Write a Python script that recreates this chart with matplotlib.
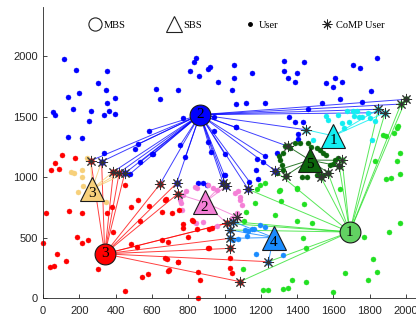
import matplotlib
matplotlib.use('Agg')
import matplotlib.pyplot as plt
from matplotlib.lines import Line2D

# ---------------- data ----------------
# base stations
mbs_x = [1690, 865, 340]
mbs_y = [545, 1515, 365]
mbs_labels = ['1', '2', '3']
sbs_x = [1600, 890, 270, 1270, 1470]
sbs_y = [1340, 790, 900, 500, 1140]
sbs_labels = ['1', '2', '3', '4', '5']

# users of MBS2 (blue)
blue_x = [116, 184, 354, 305, 345, 197, 136, 395, 354, 165, 264, 364, 55, 68, 395, 334, 253, 136, 213, 334,
          505, 602, 621, 645, 742, 771, 841, 832, 812, 861, 911,
          920, 1051, 1150, 1051, 962, 1041, 1330, 1440, 1330, 1399, 1350, 1390, 1559, 1611, 1649, 1598, 1708,
          1748, 1838, 1807, 1638, 1759, 1537, 1462, 1221, 1120, 1062, 1353, 1390, 1432, 940, 911, 1403, 1403,
          1289, 1003, 1063, 852, 880, 905, 1180, 1214, 1186, 1174]
blue_y = [1975, 1887, 1876, 1774, 1716, 1694, 1664, 1655, 1614, 1564, 1545, 1543, 1535, 1512, 1524, 1512, 1465, 1333, 1325, 1202,
          1231, 1193, 1724, 1645, 1717, 1485, 1986, 1948, 1876, 1835, 1893,
          1912, 1926, 1857, 1816, 1788, 1716, 1959, 1948, 1876, 1857, 1816, 1788, 1774, 1816, 1788, 1746, 1926,
          1904, 1986, 1707, 1645, 1623, 1614, 1562, 1614, 1614, 1603, 1493, 1455, 1455, 1383, 1293, 1355, 1311,
          1202, 1017, 1417, 948, 948, 934, 1150, 1126, 981, 1058]
# blue users linked to MBS2
blue_link_x = [525, 584, 604, 534, 755, 784, 926, 1001, 999, 944, 1062, 1137, 479, 1221]
blue_link_y = [1273, 1383, 1190, 1121, 1262, 1163, 1204, 1190, 1017, 1498, 1411, 962, 1025, 1174]

# users of SBS1 (cyan)
cyan_x = [1559, 1570, 1647, 1677, 1684, 1710, 1732, 1715, 1741, 1791, 1800, 1831, 1811, 1598, 1658, 1489, 1627, 1760]
cyan_y = [1504, 1471, 1449, 1548, 1455, 1543, 1548, 1504, 1498, 1532, 1485, 1466, 1306, 1399, 1402, 1306, 1509, 1493]

# users of SBS5 (dark green)
dgreen_x = [1388, 1416, 1462, 1475, 1508, 1526, 1545, 1559, 1361, 1324, 1306, 1315, 1324, 1287, 1425, 1453, 1508,
            1609, 1627, 1636, 1581, 1335, 1522, 1540, 1300, 1600]
dgreen_y = [1284, 1278, 1278, 1251, 1237, 1223, 1201, 1182, 1237, 1196, 1140, 1099, 1058, 1030, 997, 997, 1017,
            1140, 1154, 1091, 1099, 1260, 1017, 1017, 1170, 1110]

# users of MBS1 (green)
green_x = [1223, 1177, 1170, 1118, 1311, 1298, 1399, 1436, 1280, 1398, 1482, 1431, 1449, 1769, 1816, 1840, 1791,
           1666, 1596, 1449, 1372, 1348, 1325, 1238, 1210, 1100, 1969, 1905, 1890, 1919, 1969, 1829, 1948, 1969,
           1935, 1954, 1888, 1875, 1948, 1196, 1306, 1398, 1636, 1109]
green_y = [953, 898, 788, 714, 804, 881, 898, 774, 686, 636, 617, 493, 416, 502, 322, 215, 149,
           204, 50, 135, 149, 83, 74, 66, 66, 237, 617, 548, 983, 989, 1025, 1135, 1135, 1196,
           1361, 1424, 1339, 1347, 1402, 934, 892, 906, 900, 633]

# users of SBS2 (pink)
pink_x = [770, 758, 788, 837, 911, 957, 1058, 1085, 1095, 1071, 1039, 843, 883, 957, 847, 938, 1076, 755, 764, 1085]
pink_y = [851, 788, 887, 920, 934, 893, 871, 838, 769, 700, 659, 617, 625, 595, 906, 906, 881, 810, 727, 810]

# users of SBS4 (dodger blue)
dblue_x = [1113, 1150, 1196, 1223, 1122, 1076, 1174, 1132, 1324, 1045, 1160]
dblue_y = [562, 567, 603, 590, 509, 487, 364, 556, 355, 479, 570]

# users of SBS3 (light orange)
orange_x = [154, 171, 213, 213, 195, 219, 347, 240]
orange_y = [1044, 1030, 1058, 1003, 879, 926, 796, 1160]

# users of MBS3 (red)
red_x = [103, 175, 44, 66, 90, 17, 145, 213, 2, 39, 75, 62, 125, 185, 213, 246, 305, 354, 384, 382, 452, 485,
         485, 516, 525, 534, 544, 580, 584, 654, 672, 654, 681, 691, 742, 749, 770, 453, 852, 856, 865, 819,
         800, 678, 709, 825, 773, 847, 929, 690, 911, 672, 745, 696, 1030, 1030, 1039, 916, 916]
red_y = [1182, 1155, 1058, 1113, 1063, 700, 719, 700, 457, 254, 364, 264, 306, 502, 457, 479, 237, 700, 548, 755, 934, 755,
         446, 419, 810, 636, 176, 196, 760, 479, 810, 708, 325, 223, 300, 727, 609, 58, 212, 0, 149, 645,
         507, 816, 700, 639, 576, 567, 581, 466, 416, 328, 300, 231, 328, 245, 204, 570, 416]

# CoMP users and the cluster colour of their dot
comp_x = [263, 323, 388, 420, 450, 645, 736, 742, 993, 1010, 1131, 1280, 1348, 1451, 1339, 1530, 1570, 1632, 1648,
          1848, 1885, 1972, 2000, 1012, 1048, 1067, 1030, 1030, 1030, 1242, 1085]
comp_y = [1135, 1127, 1044, 1036, 1030, 942, 948, 860, 948, 925, 898, 1050, 1255, 1390, 1012, 1000, 1035, 1090, 1138,
          1560, 1532, 1603, 1642, 617, 631, 672, 562, 493, 410, 300, 135]
comp_group = ['m3', 'm2', 'm3', 'm3', 'm2', 'm3', 'm2', 'm3', 'm2', 'm2', 'm2', 'm2', 's5', 's1', 's5', 's5', 's5', 's5', 'm1',
              's1', 's1', 'm1', 's5', 'm3', 's4', 's2', 's4', 's4', 'm3', 's4', 'm3']

# which CoMP users each base station serves
links_mbs = [
    [10, 11, 15, 16, 17, 18, 19, 20, 21, 22, 23, 24, 26, 29, 30],       # MBS1
    [0, 1, 2, 3, 4, 5, 6, 8, 9, 10, 11, 12, 13, 19, 20, 21, 22],        # MBS2
    [0, 1, 2, 3, 4, 5, 6, 7, 23, 24, 27, 28, 29, 30],                   # MBS3
]
links_sbs = [
    [13, 19, 20],                    # SBS1
    [7, 8, 9, 23, 25],               # SBS2
    [0, 1, 2, 3, 4],                 # SBS3
    [24, 26, 27, 29],                # SBS4
    [11, 12, 14, 15, 16, 17, 18],    # SBS5
]

colors = {'m1': '#22e022', 'm2': '#0000ff', 'm3': '#ff0000', 's1': '#12eef2',
          's2': '#f47fd6', 's3': '#f7d07a', 's4': '#1a8cff', 's5': '#0b640b'}
mbs_groups = ['m1', 'm2', 'm3']
sbs_groups = ['s1', 's2', 's3', 's4', 's5']
mbs_face = ['#62d262', '#0000ff', '#ff0000']

# ---------------- figure ----------------
fig = plt.figure(figsize=(4.16, 3.23), dpi=100)
ax = fig.add_axes([43 / 416, 25 / 323, 373 / 416, 291 / 323])

lw = 0.7
# links MBS
for i, g in enumerate(mbs_groups):
    for k in links_mbs[i]:
        ax.plot([mbs_x[i], comp_x[k]], [mbs_y[i], comp_y[k]], color=colors[g], lw=lw, alpha=0.75, zorder=1)
for x, y in zip(blue_link_x, blue_link_y):
    ax.plot([mbs_x[1], x], [mbs_y[1], y], color=colors['m2'], lw=lw, alpha=0.75, zorder=1)
for i, g in enumerate(sbs_groups):
    for k in links_sbs[i]:
        ax.plot([sbs_x[i], comp_x[k]], [sbs_y[i], comp_y[k]], color=colors[g], lw=lw, alpha=0.85, zorder=1)

ms = 3.6
def users(xs, ys, g):
    ax.plot(xs, ys, ls='none', marker='o', ms=ms, mfc=colors[g], mec=colors[g], mew=0.3, zorder=2, clip_on=False)

users(blue_x, blue_y, 'm2')
users(blue_link_x, blue_link_y, 'm2')
users(cyan_x, cyan_y, 's1')
users(dgreen_x, dgreen_y, 's5')
users(green_x, green_y, 'm1')
users(pink_x, pink_y, 's2')
users(dblue_x, dblue_y, 's4')
users(orange_x, orange_y, 's3')
users(red_x, red_y, 'm3')

# CoMP users
for x, y, g in zip(comp_x, comp_y, comp_group):
    ax.plot([x], [y], ls='none', marker='o', ms=ms, mfc=colors[g], mec=colors[g], zorder=3)
ax.plot(comp_x, comp_y, ls='none', marker=(8, 2, 0), ms=8, mec='#333333', mew=0.7, zorder=3.5)

# base stations
for i, g in enumerate(mbs_groups):
    ax.plot([mbs_x[i]], [mbs_y[i]], ls='none', marker='o', ms=15, mfc=mbs_face[i], mec='#1a1a1a', mew=0.8, zorder=4)
    ax.text(mbs_x[i], mbs_y[i], mbs_labels[i], ha='center', va='center', fontsize=11,
            family='Liberation Serif', color='black', zorder=5)
for i, g in enumerate(sbs_groups):
    ax.plot([sbs_x[i]], [sbs_y[i]], ls='none', marker='^', ms=17, mfc=colors[g], mec='#1a1a1a', mew=0.8, zorder=4)
    ax.text(sbs_x[i], sbs_y[i] - 40, sbs_labels[i], ha='center', va='center', fontsize=11,
            family='Liberation Serif', color='black', zorder=5)

# legend
handles = [
    Line2D([], [], ls='none', marker='o', ms=9.5, mfc='none', mec='#222222', mew=0.8),
    Line2D([], [], ls='none', marker='^', ms=11.5, mfc='none', mec='#222222', mew=0.8),
    Line2D([], [], ls='none', marker='o', ms=2.5, mfc='black', mec='black'),
    Line2D([], [], ls='none', marker=(8, 2, 0), ms=7, mec='#222222', mew=0.7),
]
leg = ax.legend(handles, ['MBS', 'SBS', 'User', 'CoMP User'], ncol=4, frameon=False,
                loc='center', bbox_to_anchor=(0.52, 0.938), handlelength=1.0, handletextpad=0.4,
                columnspacing=4.1, prop={'family': 'Liberation Serif', 'size': 7.5})

# axes styling
ax.set_xlim(0, 2055)
ax.set_ylim(0, 2405)
ax.set_xticks(range(0, 2001, 200))
ax.set_yticks(range(0, 2001, 500))
for s in ['top', 'right']:
    ax.spines[s].set_visible(False)
for s in ['left', 'bottom']:
    ax.spines[s].set_color('#262626')
    ax.spines[s].set_linewidth(0.6)
ax.tick_params(direction='in', length=3, width=0.6, colors='#262626', labelsize=8)
ax.tick_params(axis='x', pad=6)
for lab in ax.get_xticklabels() + ax.get_yticklabels():
    lab.set_family('Liberation Sans')

fig.savefig('out.png', dpi=100)
